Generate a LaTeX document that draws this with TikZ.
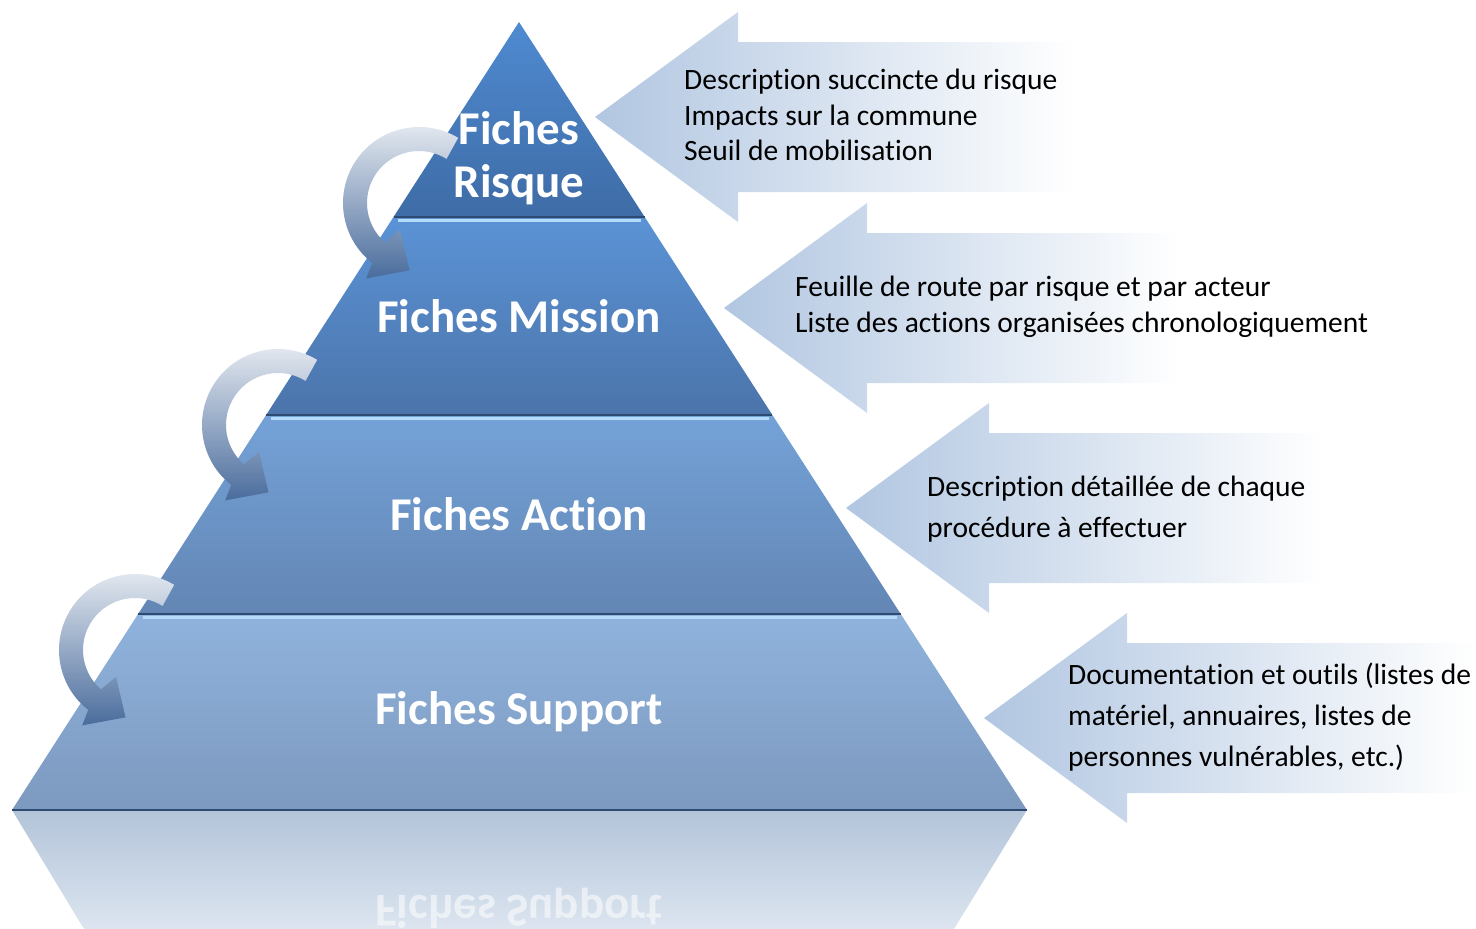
\documentclass[tikz,border=0pt]{standalone}
\usepackage{fontspec}
\setmainfont[Ligatures=NoCommon]{Carlito}
\usetikzlibrary{calc}
\definecolor{tOneA}{HTML}{4F8AD1}
\definecolor{tOneB}{HTML}{3E6CA6}
\definecolor{tTwoA}{HTML}{5B93D6}
\definecolor{tTwoB}{HTML}{4B74AA}
\definecolor{tThreeA}{HTML}{74A2D8}
\definecolor{tThreeB}{HTML}{6386B4}
\definecolor{tFourA}{HTML}{8FB3DD}
\definecolor{tFourB}{HTML}{7D99BF}
\definecolor{reflA}{HTML}{B3C4D9}
\definecolor{reflB}{HTML}{DCE5F0}
\definecolor{callout}{HTML}{B1C6E1}
\definecolor{cycLight}{HTML}{ECEFF4}
\definecolor{cycDark}{HTML}{4A6C9C}
\definecolor{sepdark}{HTML}{2E4A70}
\definecolor{sephigh}{HTML}{B4DCFA}
\tikzset{title/.style={text=white, font=\bfseries\fontsize{47}{53}\selectfont, align=center, inner sep=0pt},
         desc/.style={anchor=west, align=left, inner sep=0pt, font=\fontsize{29.5}{35.5}\selectfont},
         descwide/.style={desc, font=\fontsize{29.5}{41}\selectfont},
         sepline/.style={draw=sepdark, line width=1.5pt},
         hiline/.style={draw=sephigh, line width=3pt},
         cyc/.style={top color=cycLight, bottom color=cycDark}}
\newcommand{\cyclearrow}[1]{%
  \path[cyc] ($(#1)+(-59:76)$) arc[start angle=-59, end angle=-232, radius=76]
    -- ($(#1)+(-235:92)$) -- ($(#1)+(-262:68)$) -- ($(#1)+(-235:33)$)
    -- ($(#1)+(-229:52)$) arc[start angle=-229, end angle=-58, radius=52] -- cycle;}
\newcommand{\callout}[3]{% tip x, middle y, right end
  \path[left color=callout, right color=white]
    (#1,#2) -- (#1+143,#2-105) -- (#1+143,#2-75) -- (#3,#2-75)
    -- (#3,#2+75) -- (#1+143,#2+75) -- (#1+143,#2+105) -- cycle;}

\begin{document}
\begin{tikzpicture}[x=1pt,y=-1pt]
    \useasboundingbox (0,0) rectangle (1476,929);
    \clip (0,0) rectangle (1476,929);

    % reflet
    \shade[top color=reflA, bottom color=reflB] (12,810) -- (1027,810) -- (954,929) -- (84,929) -- cycle;
    \node[text=white, opacity=0.55, font=\bfseries\fontsize{47}{53}\selectfont, inner sep=0pt] (rs) at (519,908) {\scalebox{1}[-1]{Fiches Support}};

    % pyramide
    \shade[top color=tOneA, bottom color=tOneB] (519,22) -- (644.7,217) -- (393.5,217) -- cycle;
    \shade[top color=tTwoA, bottom color=tTwoB] (393.5,217) -- (644.7,217) -- (772.4,415) -- (266.1,415) -- cycle;
    \shade[top color=tThreeA, bottom color=tThreeB] (266.1,415) -- (772.4,415) -- (900.7,614) -- (138.1,614) -- cycle;
    \shade[top color=tFourA, bottom color=tFourB] (138.1,614) -- (900.7,614) -- (1027,810) -- (12,810) -- cycle;
    \draw[hiline] (398,220) -- (641,220);
    \draw[hiline] (271,418) -- (769,418);
    \draw[hiline] (143,617) -- (897,617);
    \draw[sepline] (393.5,217) -- (644.7,217);
    \draw[sepline] (266.1,415) -- (772.4,415);
    \draw[sepline] (138.1,614) -- (900.7,614);
    \draw[sepline] (12,810) -- (1027,810);

    % titres
    \node[title] (risque) at (519,158) {Fiches\\Risque};
    \node[title] (mission) at (519,316) {Fiches Mission};
    \node[title] (action) at (519,514) {Fiches Action};
    \node[title] (support) at (519,712) {Fiches Support};

    % fleches circulaires
    \coordinate (c1) at (419,203);
    \coordinate (c2) at (278,425);
    \coordinate (c3) at (135,650);
    \cyclearrow{c1}
    \cyclearrow{c2}
    \cyclearrow{c3}

    % fleches de droite
    \callout{595}{117}{1075}
    \callout{724}{308}{1180}
    \callout{846}{508}{1325}
    \callout{984}{718}{1476}

    \node[desc] (drisque) at (684,115) {Description succincte du risque\\Impacts sur la commune\\Seuil de mobilisation};
    \node[desc] (dmission) at (795,307) {Feuille de route par risque et par acteur\\Liste des actions organisées chronologiquement};
    \node[descwide] (daction) at (927,509) {Description détaillée de chaque\\procédure à effectuer};
    \node[descwide] (dsupport) at (1068,717) {Documentation et outils (listes de\\matériel, annuaires, listes de\\personnes vulnérables, etc.)};
\end{tikzpicture}
\end{document}
